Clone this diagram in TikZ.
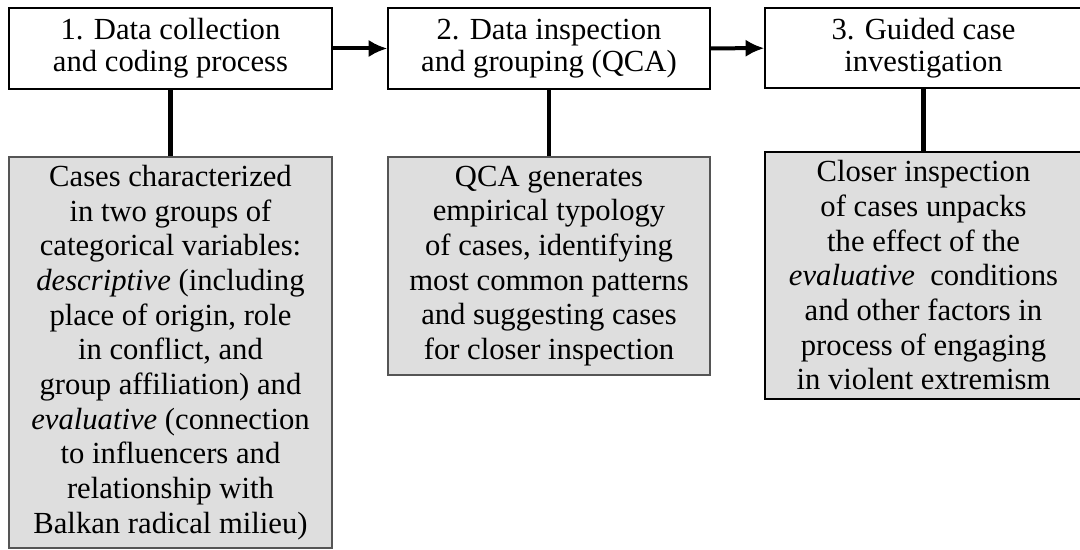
\documentclass[tikz,border=0pt]{standalone}
\usepackage{fontspec}
\setmainfont{Liberation Serif}
\usetikzlibrary{arrows.meta}
\definecolor{boxgray}{HTML}{DEDEDE}
\definecolor{edgegray}{HTML}{555555}

\begin{document}
\begin{tikzpicture}[x=0.75pt,y=-0.75pt,
        stepbox/.style={draw=black,line width=1pt,fill=white,inner sep=0pt,align=center,
            minimum height=60.75pt,font=\fontsize{23}{24}\selectfont},
        notebox/.style={draw=edgegray,line width=0.9pt,fill=boxgray,inner sep=0pt,align=center,
            font=\fontsize{23}{26}\selectfont},
        flow/.style={line width=3pt,-{Latex[length=14pt,width=13pt]}},
        stem/.style={line width=3.5pt}]
                \useasboundingbox (0,0) rectangle (1080,549);
                % steps
                \node[stepbox,minimum width=242.25pt] (collect) at (170.5,48.5) {1. Data collection\\and coding process};
                \node[stepbox,minimum width=241.5pt] (group) at (549,48.5) {2. Data inspection\\and grouping (QCA)};
                \node[stepbox,minimum width=237.75pt,minimum height=60pt] (guide) at (923.5,48) {3. Guided case\\investigation};
                % notes
                \node[notebox,minimum width=242.25pt,minimum height=293.25pt] (cases) at (170.5,352.5)
                    {Cases characterized\\in two groups of\\categorical variables:\\\textit{descriptive} (including\\place of origin, role\\in conflict, and\\group affiliation) and\\\textit{evaluative} (connection\\to influencers and\\relationship with\\Balkan radical milieu)};
                \node[notebox,minimum width=241.5pt,minimum height=163.5pt] (qca) at (549,266)
                    {QCA generates\\empirical typology\\of cases, identifying\\most common patterns\\and suggesting cases\\for closer inspection};
                \node[notebox,draw=black,line width=1.7pt,minimum width=237.75pt,minimum height=185.25pt] (closer) at (923.5,275.5)
                    {Closer\ inspection\\of cases unpacks\\the effect of the\\\textit{evaluative}\ \ conditions\\and other factors in\\process of engaging\\in violent extremism};
                % connectors
                \draw[flow] (collect) -- (group);
                \draw[flow] (group) -- (guide);
                \draw[stem] (collect.south) -- (cases.north);
                \draw[stem] (group.south) -- (qca.north);
                \draw[stem] (guide.south) -- (closer.north);
\end{tikzpicture}
\end{document}
